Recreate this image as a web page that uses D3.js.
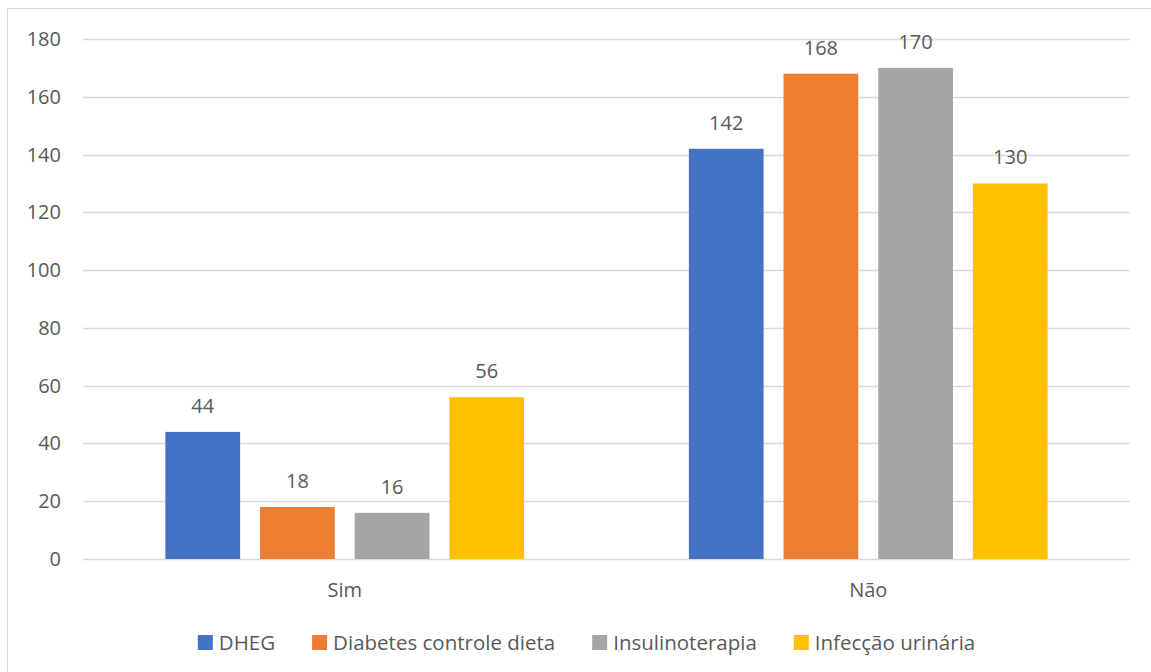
<!DOCTYPE html>
<html>
<head>
<meta charset="utf-8">
<script src="https://cdn.jsdelivr.net/npm/d3@7"></script>
<style>
  body { margin: 0; background: #fff; }
  text { font-family: "Open Sans", "Liberation Sans", sans-serif; fill: #595959; }
</style>
</head>
<body>
<div id="chart"></div>
<script>
const categories = ["Sim", "Não"];
const seriesNames = ["DHEG", "Diabetes controle dieta", "Insulinoterapia", "Infecção urinária"];
const seriesColors = ["#4472C4", "#ED7D31", "#A5A5A5", "#FFC000"];
const dheg = [44, 142];
const diabetes = [18, 168];
const insulina = [16, 170];
const infeccao = [56, 130];
const yTicks = [0, 20, 40, 60, 80, 100, 120, 140, 160, 180];

const seriesValues = [dheg, diabetes, insulina, infeccao];
const data = categories.map((c, i) => ({
    cat: c,
    values: seriesNames.map((s, j) => ({ key: s, value: seriesValues[j][i] }))
}));

const width = 1151, height = 672;
const margin = { top: 39, right: 21, bottom: 113, left: 83 };
const fontSize = "20px";

const svg = d3.select("#chart").append("svg")
    .attr("width", width)
    .attr("height", height);

// chart border
svg.append("rect")
    .attr("x", 7.5).attr("y", 8.5)
    .attr("width", width).attr("height", height)
    .attr("fill", "none")
    .attr("stroke", "#D9D9D9")
    .attr("stroke-width", 1);

const x0 = d3.scaleBand()
    .domain(categories)
    .range([margin.left, width - margin.right])
    .padding(0);

const x1 = d3.scaleBand()
    .domain(seriesNames)
    .range([0, x0.bandwidth()])
    .paddingInner(0.2105)
    .paddingOuter(0.87);

const y = d3.scaleLinear()
    .domain([0, 180])
    .range([height - margin.bottom, margin.top]);

const color = d3.scaleOrdinal().domain(seriesNames).range(seriesColors);

// gridlines
svg.append("g")
    .selectAll("line")
    .data(yTicks)
    .join("line")
    .attr("x1", margin.left)
    .attr("x2", width - margin.right)
    .attr("y1", d => Math.round(y(d)) + 0.5)
    .attr("y2", d => Math.round(y(d)) + 0.5)
    .attr("stroke", "#D9D9D9")
    .attr("stroke-width", 1.3);

// y axis labels
svg.append("g")
    .selectAll("text")
    .data(yTicks)
    .join("text")
    .attr("x", 61)
    .attr("y", d => y(d))
    .attr("dy", "0.35em")
    .attr("text-anchor", "end")
    .attr("font-size", fontSize)
    .text(d => d);

// bars
const groups = svg.append("g")
    .selectAll("g")
    .data(data)
    .join("g")
    .attr("transform", d => `translate(${x0(d.cat)},0)`);

groups.selectAll("rect")
    .data(d => d.values)
    .join("rect")
    .attr("x", d => x1(d.key))
    .attr("y", d => y(d.value))
    .attr("width", x1.bandwidth())
    .attr("height", d => y(0) - y(d.value))
    .attr("fill", d => color(d.key));

groups.selectAll("text")
    .data(d => d.values)
    .join("text")
    .attr("x", d => x1(d.key) + x1.bandwidth() / 2)
    .attr("y", d => y(d.value) - 19)
    .attr("text-anchor", "middle")
    .attr("font-size", fontSize)
    .text(d => d.value);

// category labels
svg.append("g")
    .selectAll("text")
    .data(categories)
    .join("text")
    .attr("x", d => x0(d) + x0.bandwidth() / 2)
    .attr("y", 590)
    .attr("dy", "0.35em")
    .attr("text-anchor", "middle")
    .attr("font-size", fontSize)
    .text(d => d);

// legend
const legend = svg.append("g");
const items = legend.selectAll("g")
    .data(seriesNames)
    .join("g");

items.append("rect")
    .attr("width", 15)
    .attr("height", 15)
    .attr("y", -7.5)
    .attr("fill", color);

items.append("text")
    .attr("x", 21)
    .attr("dy", "0.35em")
    .attr("font-size", "20.5px")
    .text(d => d);

let offset = 0;
const gap = 37;
const widths = [];
items.each(function() { widths.push(this.getBBox().width); });
const total = d3.sum(widths) + gap * (widths.length - 1);
const start = 586.5 - total / 2;
items.attr("transform", (d, i) => {
    const tx = start + offset;
    offset += widths[i] + gap;
    return `translate(${tx},642.5)`;
});
</script>
</body>
</html>
